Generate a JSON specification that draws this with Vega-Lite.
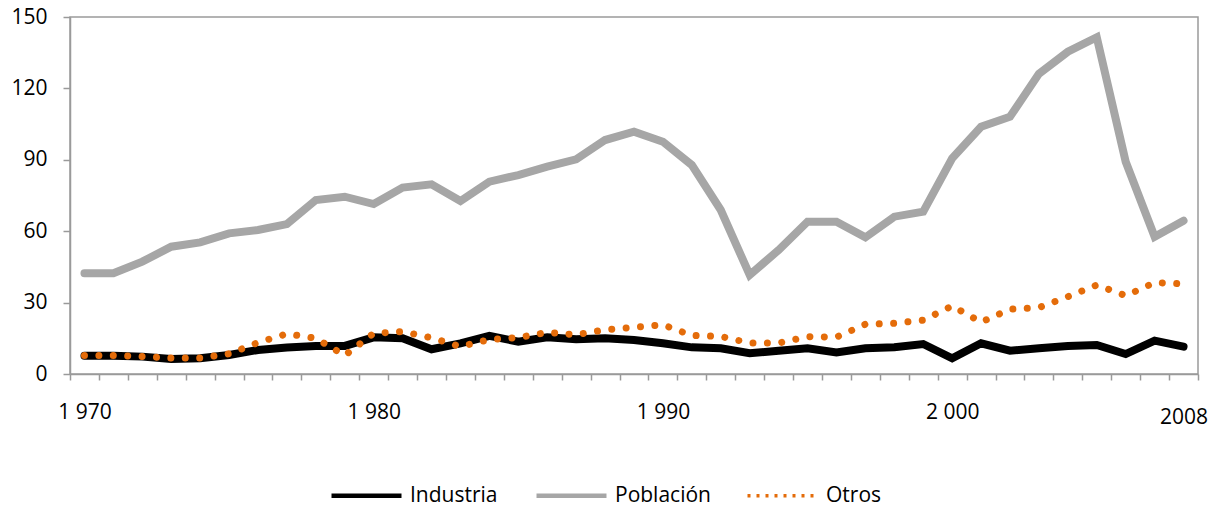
{
  "$schema": "https://vega.github.io/schema/vega-lite/v6.json",
  "width": 1128,
  "height": 357,
  "autosize": {"type": "none"},
  "padding": {"left": 70, "top": 17, "right": 25, "bottom": 134},
  "background": "white",
  "config": {
    "view": {"stroke": "#9a9a9a", "strokeWidth": 1.5},
    "axis": {"grid": false, "labelFont": "Open Sans", "labelFontSize": 21, "labelColor": "#000000", "domainColor": "#9a9a9a", "domainWidth": 1.5, "tickColor": "#9a9a9a", "tickWidth": 1.5, "title": null},
    "legend": {"labelFont": "Open Sans", "labelFontSize": 21, "labelColor": "#000000"}
  },
  "data": {"values": [
    {"year": 1970, "series": "Población", "value": 42.3},
    {"year": 1971, "series": "Población", "value": 42.3},
    {"year": 1972, "series": "Población", "value": 47.2},
    {"year": 1973, "series": "Población", "value": 53.5},
    {"year": 1974, "series": "Población", "value": 55.3},
    {"year": 1975, "series": "Población", "value": 59.1},
    {"year": 1976, "series": "Población", "value": 60.5},
    {"year": 1977, "series": "Población", "value": 63.0},
    {"year": 1978, "series": "Población", "value": 73.1},
    {"year": 1979, "series": "Población", "value": 74.5},
    {"year": 1980, "series": "Población", "value": 71.4},
    {"year": 1981, "series": "Población", "value": 78.3},
    {"year": 1982, "series": "Población", "value": 79.7},
    {"year": 1983, "series": "Población", "value": 72.7},
    {"year": 1984, "series": "Población", "value": 80.8},
    {"year": 1985, "series": "Población", "value": 83.6},
    {"year": 1986, "series": "Población", "value": 87.1},
    {"year": 1987, "series": "Población", "value": 90.2},
    {"year": 1988, "series": "Población", "value": 98.3},
    {"year": 1989, "series": "Población", "value": 101.8},
    {"year": 1990, "series": "Población", "value": 97.6},
    {"year": 1991, "series": "Población", "value": 87.8},
    {"year": 1992, "series": "Población", "value": 68.9},
    {"year": 1993, "series": "Población", "value": 41.6},
    {"year": 1994, "series": "Población", "value": 52.1},
    {"year": 1995, "series": "Población", "value": 64.0},
    {"year": 1996, "series": "Población", "value": 64.0},
    {"year": 1997, "series": "Población", "value": 57.4},
    {"year": 1998, "series": "Población", "value": 66.1},
    {"year": 1999, "series": "Población", "value": 68.2},
    {"year": 2000, "series": "Población", "value": 90.6},
    {"year": 2001, "series": "Población", "value": 103.9},
    {"year": 2002, "series": "Población", "value": 108.1},
    {"year": 2003, "series": "Población", "value": 126.1},
    {"year": 2004, "series": "Población", "value": 135.4},
    {"year": 2005, "series": "Población", "value": 141.5},
    {"year": 2006, "series": "Población", "value": 89.2},
    {"year": 2007, "series": "Población", "value": 57.7},
    {"year": 2008, "series": "Población", "value": 64.4},
    {"year": 1970, "series": "Industria", "value": 7.7},
    {"year": 1971, "series": "Industria", "value": 7.7},
    {"year": 1972, "series": "Industria", "value": 7.3},
    {"year": 1973, "series": "Industria", "value": 6.3},
    {"year": 1974, "series": "Industria", "value": 6.6},
    {"year": 1975, "series": "Industria", "value": 8.0},
    {"year": 1976, "series": "Industria", "value": 10.1},
    {"year": 1977, "series": "Industria", "value": 11.1},
    {"year": 1978, "series": "Industria", "value": 11.8},
    {"year": 1979, "series": "Industria", "value": 11.8},
    {"year": 1980, "series": "Industria", "value": 15.4},
    {"year": 1981, "series": "Industria", "value": 15.0},
    {"year": 1982, "series": "Industria", "value": 10.4},
    {"year": 1983, "series": "Industria", "value": 12.9},
    {"year": 1984, "series": "Industria", "value": 16.0},
    {"year": 1985, "series": "Industria", "value": 13.6},
    {"year": 1986, "series": "Industria", "value": 15.4},
    {"year": 1987, "series": "Industria", "value": 14.6},
    {"year": 1988, "series": "Industria", "value": 15.0},
    {"year": 1989, "series": "Industria", "value": 14.3},
    {"year": 1990, "series": "Industria", "value": 12.9},
    {"year": 1991, "series": "Industria", "value": 11.2},
    {"year": 1992, "series": "Industria", "value": 10.8},
    {"year": 1993, "series": "Industria", "value": 8.7},
    {"year": 1994, "series": "Industria", "value": 9.8},
    {"year": 1995, "series": "Industria", "value": 10.8},
    {"year": 1996, "series": "Industria", "value": 9.0},
    {"year": 1997, "series": "Industria", "value": 10.8},
    {"year": 1998, "series": "Industria", "value": 11.2},
    {"year": 1999, "series": "Industria", "value": 12.6},
    {"year": 2000, "series": "Industria", "value": 6.6},
    {"year": 2001, "series": "Industria", "value": 12.9},
    {"year": 2002, "series": "Industria", "value": 9.8},
    {"year": 2003, "series": "Industria", "value": 10.8},
    {"year": 2004, "series": "Industria", "value": 11.8},
    {"year": 2005, "series": "Industria", "value": 12.2},
    {"year": 2006, "series": "Industria", "value": 8.4},
    {"year": 2007, "series": "Industria", "value": 14.0},
    {"year": 2008, "series": "Industria", "value": 11.5},
    {"year": 1970, "series": "Otros", "value": 7.8},
    {"year": 1971, "series": "Otros", "value": 7.8},
    {"year": 1972, "series": "Otros", "value": 7.4},
    {"year": 1973, "series": "Otros", "value": 6.7},
    {"year": 1974, "series": "Otros", "value": 6.7},
    {"year": 1975, "series": "Otros", "value": 8.5},
    {"year": 1976, "series": "Otros", "value": 13.2},
    {"year": 1977, "series": "Otros", "value": 16.9},
    {"year": 1978, "series": "Otros", "value": 15.0},
    {"year": 1979, "series": "Otros", "value": 7.8},
    {"year": 1980, "series": "Otros", "value": 17.1},
    {"year": 1981, "series": "Otros", "value": 17.8},
    {"year": 1982, "series": "Otros", "value": 15.2},
    {"year": 1983, "series": "Otros", "value": 11.5},
    {"year": 1984, "series": "Otros", "value": 14.5},
    {"year": 1985, "series": "Otros", "value": 15.3},
    {"year": 1986, "series": "Otros", "value": 17.5},
    {"year": 1987, "series": "Otros", "value": 16.5},
    {"year": 1988, "series": "Otros", "value": 18.6},
    {"year": 1989, "series": "Otros", "value": 19.6},
    {"year": 1990, "series": "Otros", "value": 20.7},
    {"year": 1991, "series": "Otros", "value": 16.2},
    {"year": 1992, "series": "Otros", "value": 15.8},
    {"year": 1993, "series": "Otros", "value": 13.0},
    {"year": 1994, "series": "Otros", "value": 13.0},
    {"year": 1995, "series": "Otros", "value": 15.7},
    {"year": 1996, "series": "Otros", "value": 15.5},
    {"year": 1997, "series": "Otros", "value": 20.9},
    {"year": 1998, "series": "Otros", "value": 21.3},
    {"year": 1999, "series": "Otros", "value": 22.6},
    {"year": 2000, "series": "Otros", "value": 28.6},
    {"year": 2001, "series": "Otros", "value": 21.8},
    {"year": 2002, "series": "Otros", "value": 27.2},
    {"year": 2003, "series": "Otros", "value": 27.9},
    {"year": 2004, "series": "Otros", "value": 32.5},
    {"year": 2005, "series": "Otros", "value": 37.4},
    {"year": 2006, "series": "Otros", "value": 32.9},
    {"year": 2007, "series": "Otros", "value": 38.4},
    {"year": 2008, "series": "Otros", "value": 37.9}
  ]},
  "encoding": {
    "y": {"field": "value", "type": "quantitative", "scale": {"domain": [0, 150], "nice": false},
      "axis": {"values": [0, 30, 60, 90, 120, 150], "tickSize": 7, "labelPadding": 16}},
    "color": {"field": "series", "type": "nominal",
      "scale": {"domain": ["Industria", "Población", "Otros"], "range": ["#000000", "#a6a6a6", "#e46c0a"]},
      "legend": {"title": null, "orient": "none", "legendX": 286, "legendY": 468, "direction": "horizontal", "symbolType": "stroke", "symbolSize": 4900, "symbolStrokeWidth": 4.5, "labelOffset": 33, "columnPadding": 29,
        "encode": {"symbols": {"update": {"strokeDash": {"signal": "datum.value === 'Otros' ? [3, 6] : [1, 0]"}, "strokeWidth": {"signal": "datum.value === 'Otros' ? 3.5 : 4.5"}}}}}}
  },
  "layer": [
    {
      "transform": [{"filter": "datum.series === 'Población'"}],
      "mark": {"type": "line", "strokeWidth": 8, "strokeCap": "round", "strokeJoin": "miter"},
      "encoding": {"x": {"field": "year", "type": "quantitative", "scale": {"domain": [1969.5, 2008.5], "nice": false, "zero": false},
        "axis": {"orient": "bottom", "values": [1969.5,1970.5,1971.5,1972.5,1973.5,1974.5,1975.5,1976.5,1977.5,1978.5,1979.5,1980.5,1981.5,1982.5,1983.5,1984.5,1985.5,1986.5,1987.5,1988.5,1989.5,1990.5,1991.5,1992.5,1993.5,1994.5,1995.5,1996.5,1997.5,1998.5,1999.5,2000.5,2001.5,2002.5,2003.5,2004.5,2005.5,2006.5,2007.5,2008.5], "labels": false, "tickSize": 6}}}
    },
    {
      "transform": [{"filter": "datum.series === 'Industria'"}],
      "mark": {"type": "line", "strokeWidth": 8, "strokeCap": "round", "strokeJoin": "miter"},
      "encoding": {"x": {"field": "year", "type": "quantitative",
        "axis": {"orient": "bottom", "values": [1970, 1980, 1990, 2000], "ticks": false, "domain": false, "tickSize": 0, "offset": 27, "labelPadding": 0, "labelExpr": "substring(toString(datum.value),0,1) + ' ' + substring(toString(datum.value),1,4)"}}}
    },
    {
      "transform": [{"filter": "datum.series === 'Otros'"}],
      "mark": {"type": "line", "strokeWidth": 7, "strokeCap": "round", "strokeDash": [0.01, 14.4]},
      "encoding": {"x": {"field": "year", "type": "quantitative",
        "axis": {"orient": "bottom", "values": [2008], "ticks": false, "domain": false, "tickSize": 0, "offset": 32, "labelPadding": 0, "format": "d"}}}
    }
  ],
  "resolve": {"axis": {"x": "independent"}}
}
